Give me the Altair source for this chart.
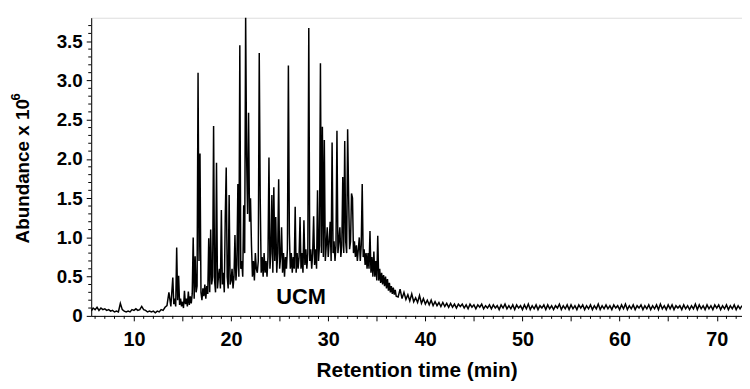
import altair as alt
import pandas as pd

# ---- chromatogram trace (abundance in millions) ----
# segment A: 5.6 .. 13.8 min, every 0.2 min
seg_a_start, seg_a_step = 5.6, 0.2
seg_a_vals = [
    0.06, 0.10, 0.08, 0.11, 0.07, 0.10, 0.08, 0.09, 0.07, 0.08,
    0.06, 0.07, 0.05, 0.06, 0.05, 0.16, 0.08, 0.06, 0.05, 0.06,
    0.05, 0.08, 0.07, 0.09, 0.07, 0.08, 0.12, 0.08, 0.07, 0.05,
    0.06, 0.05, 0.06, 0.04, 0.06, 0.05, 0.08, 0.07, 0.11, 0.13,
    0.30, 0.12,
]
# segment B: 14.0 .. 37.0 min, every 0.1 min (one row per minute)
seg_b_start, seg_b_step = 14.0, 0.1
seg_b_vals = [
    0.49, 0.15, 0.22, 0.12, 0.87, 0.20, 0.51, 0.14, 0.22, 0.12,
    0.18, 0.10, 0.32, 0.15, 0.22, 0.12, 0.31, 0.14, 0.25, 0.16,
    0.28, 1.00, 0.22, 0.76, 0.30, 0.38, 3.10, 0.70, 2.07, 0.30,
    0.20, 0.35, 0.25, 0.40, 0.22, 0.38, 0.28, 0.99, 0.30, 1.10,
    0.40, 0.50, 2.42, 0.45, 0.30, 1.95, 0.35, 0.50, 0.60, 0.35,
    1.35, 0.40, 0.55, 0.30, 1.25, 1.89, 0.50, 0.35, 1.54, 0.40,
    0.45, 0.60, 0.35, 0.50, 1.03, 0.45, 0.65, 1.68, 0.50, 3.45,
    0.60, 0.70, 0.50, 1.41, 0.80, 3.82, 2.02, 1.30, 2.59, 1.20,
    1.50, 0.90, 0.50, 0.70, 0.45, 0.80, 0.60, 0.55, 0.70, 3.35,
    1.50, 0.55, 0.75, 0.50, 0.80, 0.55, 0.70, 0.50, 0.75, 2.02,
    0.60, 0.80, 1.54, 0.55, 1.64, 0.70, 1.26, 0.55, 0.80, 1.74,
    0.60, 0.75, 1.13, 0.55, 0.80, 0.50, 0.75, 0.60, 0.85, 3.19,
    1.05, 0.60, 0.80, 0.55, 0.75, 0.60, 1.39, 0.55, 0.80, 0.60,
    0.75, 1.26, 0.60, 0.80, 0.55, 1.22, 0.65, 0.85, 0.60, 0.80,
    3.67, 0.70, 0.85, 0.60, 0.80, 1.27, 0.65, 0.85, 0.60, 1.60,
    0.70, 0.90, 3.22, 0.80, 2.41, 0.75, 2.24, 0.70, 0.90, 1.13,
    0.75, 0.95, 1.20, 0.70, 2.21, 0.80, 0.95, 0.70, 0.90, 2.36,
    0.80, 0.95, 1.13, 0.75, 0.90, 1.77, 0.80, 2.23, 0.95, 0.80,
    2.38, 1.54, 0.85, 0.95, 1.56, 1.50, 0.80, 0.95, 0.75, 0.90,
    0.70, 0.85, 1.00, 0.70, 0.90, 1.68, 0.75, 0.85, 0.65, 0.80,
    0.60, 0.80, 0.60, 1.08, 0.55, 0.75, 0.50, 0.82, 0.50, 0.70,
    0.45, 1.02, 0.45, 0.60, 0.42, 0.55, 0.40, 0.52, 0.38, 0.50,
    0.35, 0.47, 0.32, 0.42, 0.30, 0.38, 0.28, 0.36, 0.27, 0.33,
    0.25,
]
# segment C: 37.2 .. 72.6 min, every 0.2 min
seg_c_start, seg_c_step = 37.2, 0.2
seg_c_vals = [
    0.24, 0.34, 0.22, 0.30, 0.21, 0.27, 0.19, 0.28, 0.18, 0.23,
    0.17, 0.26, 0.16, 0.22, 0.15, 0.20, 0.14, 0.20, 0.13, 0.18,
    0.13, 0.17, 0.12, 0.17, 0.12, 0.16, 0.11, 0.16, 0.11, 0.15,
    0.10, 0.15, 0.12, 0.15, 0.10, 0.14, 0.09, 0.15, 0.11, 0.14,
    0.09, 0.14, 0.11, 0.15, 0.09, 0.13, 0.10, 0.14, 0.09, 0.14,
    0.10, 0.13, 0.08, 0.14, 0.10, 0.15, 0.09, 0.13, 0.09, 0.14,
    0.08, 0.14, 0.10, 0.13, 0.08, 0.14, 0.09, 0.15, 0.08, 0.13,
    0.09, 0.14, 0.08, 0.13, 0.10, 0.14, 0.08, 0.14, 0.09, 0.13,
    0.08, 0.13, 0.10, 0.15, 0.08, 0.13, 0.09, 0.14, 0.08, 0.14,
    0.09, 0.13, 0.08, 0.14, 0.10, 0.14, 0.08, 0.13, 0.09, 0.14,
    0.08, 0.13, 0.09, 0.15, 0.08, 0.13, 0.09, 0.14, 0.09, 0.13,
    0.08, 0.14, 0.10, 0.13, 0.08, 0.14, 0.09, 0.15, 0.08, 0.13,
    0.09, 0.14, 0.08, 0.13, 0.10, 0.14, 0.08, 0.13, 0.09, 0.14,
    0.08, 0.13, 0.09, 0.14, 0.08, 0.15, 0.09, 0.13, 0.08, 0.14,
    0.09, 0.14, 0.08, 0.13, 0.10, 0.13, 0.08, 0.14, 0.09, 0.13,
    0.08, 0.13, 0.09, 0.15, 0.08, 0.14, 0.09, 0.13, 0.08, 0.14,
    0.09, 0.13, 0.08, 0.14, 0.10, 0.14, 0.08, 0.13, 0.09, 0.14,
    0.08, 0.13, 0.09, 0.14, 0.08, 0.13, 0.09, 0.13,
]

# annotation
ucm_label = ["UCM"]
ucm_time = [27.2]
ucm_abund = [0.24]

# axis ticks
x_major = [10, 15, 20, 25, 30, 35, 40, 45, 50, 55, 60, 65, 70]
x_minor = [v for v in range(6, 73) if v % 5 != 0]
y_major = [0, 0.5, 1.0, 1.5, 2.0, 2.5, 3.0, 3.5]
y_minor = [round(i * 0.1, 1) for i in range(0, 38) if i % 5 != 0]

y_title = "Abundance x 10"
y_title_sup = "6"

# ---- build tables ----
rows = []
for start, step, vals in [(seg_a_start, seg_a_step, seg_a_vals),
                          (seg_b_start, seg_b_step, seg_b_vals),
                          (seg_c_start, seg_c_step, seg_c_vals)]:
    for i, v in enumerate(vals):
        rows.append({"t": round(start + i * step, 2), "a": v})
df = pd.DataFrame(rows)
ann = pd.DataFrame({"t": ucm_time, "a": ucm_abund, "txt": ucm_label})
xminor_df = pd.DataFrame({"t": x_minor})
yminor_df = pd.DataFrame({"a": y_minor})

FONT = "Liberation Sans"
W, H = 657, 301

x_scale = alt.Scale(domain=[5.6, 72.6], nice=False, zero=False)
y_scale = alt.Scale(domain=[0, 3.8], nice=False)

x_axis = alt.Axis(
    title="Retention time (min)",
    values=x_major,
    labelExpr="datum.value % 10 == 0 ? datum.label : ''",
    labelOverlap=False,
    labelFlush=False,
    grid=False,
    domainColor="black",
    tickColor="black",
    tickSize=5,
    labelPadding=9,
    labelFont=FONT,
    labelFontSize=20,
    labelFontWeight="bold",
    labelColor="black",
    titleFont=FONT,
    titleFontSize=21,
    titleFontWeight="bold",
    titleColor="black",
    titlePadding=10,
)

y_axis = alt.Axis(
    title=None,
    values=y_major,
    labelExpr="datum.value == 0 ? '0' : format(datum.value, '.1f')",
    labelOverlap=False,
    labelFlush=False,
    grid=False,
    domainColor="black",
    tickColor="black",
    tickSize=5,
    labelPadding=4,
    labelFont=FONT,
    labelFontSize=19,
    labelFontWeight="bold",
    labelColor="black",
)

line = alt.Chart(df).mark_line(color="black", strokeWidth=1.5, clip=True).encode(
    x=alt.X("t:Q", scale=x_scale, axis=x_axis),
    y=alt.Y("a:Q", scale=y_scale, axis=y_axis),
)

xminor = alt.Chart(xminor_df).mark_rule(color="black", strokeWidth=1).encode(
    x=alt.X("t:Q", scale=x_scale),
    y=alt.value(H),
    y2=alt.value(H + 3),
)

yminor = alt.Chart(yminor_df).mark_rule(color="black", strokeWidth=1).encode(
    y=alt.Y("a:Q", scale=y_scale),
    x=alt.value(-3),
    x2=alt.value(0),
)

text = alt.Chart(ann).mark_text(
    font=FONT, fontSize=22, fontWeight="bold", color="black", align="center", baseline="middle"
).encode(
    x=alt.X("t:Q", scale=x_scale),
    y=alt.Y("a:Q", scale=y_scale),
    text="txt:N",
)

ytitle = alt.Chart(pd.DataFrame({"txt": [y_title]})).mark_text(
    font=FONT, fontSize=19, fontWeight="bold", color="black", angle=270,
    align="center", baseline="middle"
).encode(x=alt.value(-69), y=alt.value(155), text="txt:N")

ytitle_sup = alt.Chart(pd.DataFrame({"txt": [y_title_sup]})).mark_text(
    font=FONT, fontSize=13, fontWeight="bold", color="black", angle=270,
    align="center", baseline="middle"
).encode(x=alt.value(-76), y=alt.value(80), text="txt:N")

chart = alt.layer(line, xminor, yminor, text, ytitle, ytitle_sup).properties(
    width=W,
    height=H,
    autosize=alt.AutoSizeParams(type="none"),
    padding={"left": 84, "top": 8, "right": 0, "bottom": 72},
).configure_view(stroke=None).configure(background="white")

chart.save("out.html", embed_options={"renderer": "svg", "actions": False})
